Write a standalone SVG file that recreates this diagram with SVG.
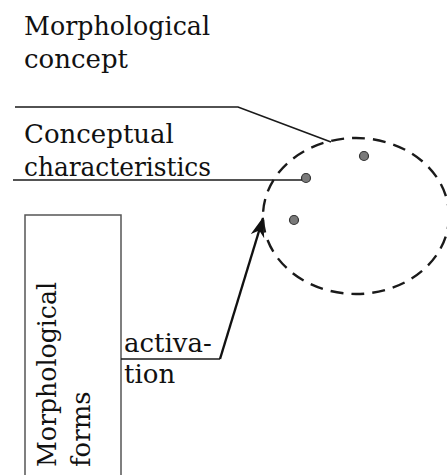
<svg xmlns="http://www.w3.org/2000/svg" width="447" height="475" viewBox="0 0 447 475">
<style>
text{font-family:"DejaVu Serif","Liberation Serif",serif;font-size:26px;fill:#111}
.ln{fill:none;stroke:#1a1a1a;stroke-width:1.7}
.dot{fill:#7a7a7a;stroke:#333;stroke-width:1.2}
</style>
<defs>
<marker id="ah" markerWidth="22" markerHeight="16" refX="19" refY="7" orient="auto" markerUnits="userSpaceOnUse">
<path d="M0,0 L20,7 L0,14 L6,7 Z" fill="#111"/>
</marker>
</defs>
<rect width="447" height="475" fill="#fff"/>
<g id="concept">
<text x="24" y="35" textLength="186" lengthAdjust="spacingAndGlyphs">Morphological</text>
<text x="24" y="68">concept</text>
<ellipse cx="356" cy="216" rx="93" ry="78" fill="none" stroke="#1a1a1a" stroke-width="2.4" stroke-dasharray="13,8"/>
<circle class="dot" cx="364" cy="156" r="4.5"/>
<circle class="dot" cx="306" cy="178" r="4.5"/>
<circle class="dot" cx="294" cy="220" r="4.5"/>
</g>
<g id="characteristics">
<text x="24" y="143">Conceptual</text>
<text x="24" y="176" textLength="187" lengthAdjust="spacingAndGlyphs">characteristics</text>
</g>
<g id="forms">
<rect x="25" y="215" width="96" height="270" fill="none" stroke="#555" stroke-width="1.5"/>
<text transform="translate(56,467) rotate(-90)" textLength="185" lengthAdjust="spacingAndGlyphs">Morphological</text>
<text transform="translate(90,467) rotate(-90)">forms</text>
</g>
<g id="connectors">
<polyline class="ln" points="15,107 238,107 331,142"/>
<polyline class="ln" points="13,180 302,180"/>
<polyline class="ln" points="121,359 220,359"/>
<line x1="220" y1="359" x2="263" y2="218" stroke="#111" stroke-width="2.4" marker-end="url(#ah)"/>
<text x="124" y="352">activa-</text>
<text x="124" y="383">tion</text>
</g>
</svg>
